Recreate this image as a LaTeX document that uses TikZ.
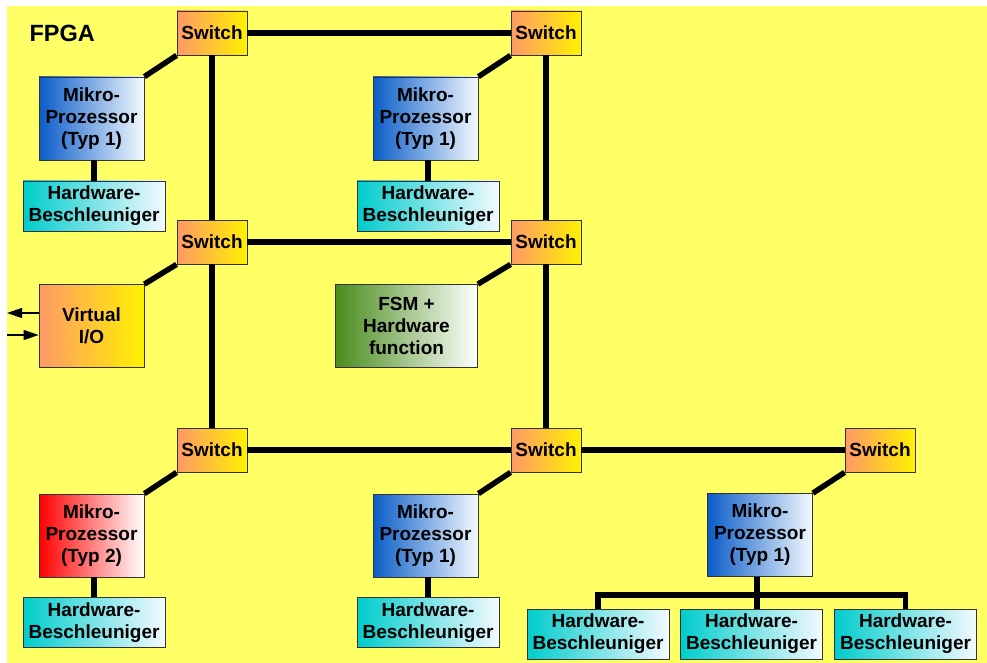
\documentclass[tikz,border=0pt]{standalone}
\usepackage{fontspec}
\setmainfont{Liberation Sans}
\usetikzlibrary{arrows.meta}

\definecolor{fpgabg}{HTML}{FFFF66}
\definecolor{boxline}{HTML}{333333}
\definecolor{swleft}{HTML}{FF9966}
\definecolor{swright}{HTML}{FFF200}
\definecolor{mpblue}{HTML}{0A5CC8}
\definecolor{mpred}{HTML}{FF0000}
\definecolor{hbteal}{HTML}{00CCCC}
\definecolor{fsmgreen}{HTML}{4A8C1C}
\definecolor{paleend}{HTML}{F4FAFF}

\tikzset{
  basebox/.style={draw=boxline, line width=0.8pt, inner sep=0pt, align=center,
    font=\bfseries\fontsize{19}{22}\selectfont},
  switchbox/.style={basebox, minimum width=70pt, minimum height=44pt,
    left color=swleft, right color=swright},
  cpu/.style={basebox, minimum width=105pt, minimum height=83pt,
    left color=mpblue, right color=paleend},
  cputwo/.style={cpu, left color=mpred, right color=white},
  accel/.style={basebox, minimum width=142pt, minimum height=50pt,
    left color=hbteal, right color=paleend},
  iobox/.style={basebox, minimum width=105pt, minimum height=83pt,
    left color=swleft, right color=swright},
  fsmbox/.style={basebox, minimum width=142pt, minimum height=83pt,
    left color=fsmgreen, right color=white},
  link/.style={line width=5.5pt, line cap=butt},
  sig/.style={line width=1.2pt, -{Triangle[length=15pt,width=10pt]}},
}

\begin{document}
\begin{tikzpicture}[x=1pt, y=-1pt]
  % FPGA area
  \useasboundingbox (0,0) rectangle (987,663);
  \fill[white] (0,0) rectangle (987,663);
  \fill[fpgabg] (7,6) rectangle (987,663);
  \node[anchor=west, font=\bfseries\fontsize{23.5}{27}\selectfont] (fpga) at (26,33) {FPGA};

  % switches
  \node[switchbox] (s1) at (212,33)  {Switch};
  \node[switchbox] (s2) at (546,33)  {Switch};
  \node[switchbox] (s3) at (212,242) {Switch};
  \node[switchbox] (s4) at (546,242) {Switch};
  \node[switchbox] (s5) at (212,450) {Switch};
  \node[switchbox] (s6) at (546,450) {Switch};
  \node[switchbox] (s7) at (880,450) {Switch};

  % processing elements
  \node[cpu] (mp1) at (91.5,118.5) {Mikro-\\Prozessor\\(Typ 1)};
  \node[cpu] (mp2) at (425.5,118.5) {Mikro-\\Prozessor\\(Typ 1)};
  \node[iobox] (vio) at (91.5,326) {Virtual\\I/O};
  \node[fsmbox] (fsm) at (406.5,326) {FSM +\\Hardware\\function};
  \node[cputwo] (mp3) at (91.5,535.5) {Mikro-\\Prozessor\\(Typ 2)};
  \node[cpu] (mp4) at (425.5,535.5) {Mikro-\\Prozessor\\(Typ 1)};
  \node[cpu] (mp5) at (760,535) {Mikro-\\Prozessor\\(Typ 1)};

  % accelerators
  \node[accel] (hb1) at (94,206) {Hardware-\\Beschleuniger};
  \node[accel] (hb2) at (428,206) {Hardware-\\Beschleuniger};
  \node[accel] (hb3) at (94,622.5) {Hardware-\\Beschleuniger};
  \node[accel] (hb4) at (428,622.5) {Hardware-\\Beschleuniger};
  \node[accel] (hb5) at (598,634) {Hardware-\\Beschleuniger};
  \node[accel] (hb6) at (751.5,634) {Hardware-\\Beschleuniger};
  \node[accel] (hb7) at (905.5,634) {Hardware-\\Beschleuniger};

  % switch mesh
  \draw[link] (s1) -- (s2);
  \draw[link] (s3) -- (s4);
  \draw[link] (s5) -- (s6);
  \draw[link] (s6) -- (s7);
  \draw[link] (s1) -- (s3);
  \draw[link] (s3) -- (s5);
  \draw[link] (s2) -- (s4);
  \draw[link] (s4) -- (s6);

  % switch to element links
  \draw[link] (s1.south west) -- (mp1.north east);
  \draw[link] (s2.south west) -- (mp2.north east);
  \draw[link] (s3.south west) -- (vio.north east);
  \draw[link] (s4.south west) -- (fsm.north east);
  \draw[link] (s5.south west) -- (mp3.north east);
  \draw[link] (s6.south west) -- (mp4.north east);
  \draw[link] (s7.south west) -- (mp5.north east);

  % processor to accelerator links
  \draw[link] (mp1.south -| hb1.north) -- (hb1.north);
  \draw[link] (mp2.south -| hb2.north) -- (hb2.north);
  \draw[link] (mp3.south -| hb3.north) -- (hb3.north);
  \draw[link] (mp4.south -| hb4.north) -- (hb4.north);
  \coordinate (bus) at (757,595);
  \draw[link] (mp5.south -| bus) -- (bus |- hb6.north);
  \draw[link] (hb5.north) |- (bus) -| (hb7.north);

  % external I/O signals
  \coordinate (outend) at (7,313);
  \coordinate (instart) at (7,335);
  \draw[sig] (vio.west |- outend) -- (outend);
  \draw[sig] (instart) -- (vio.west |- instart);
\end{tikzpicture}
\end{document}
